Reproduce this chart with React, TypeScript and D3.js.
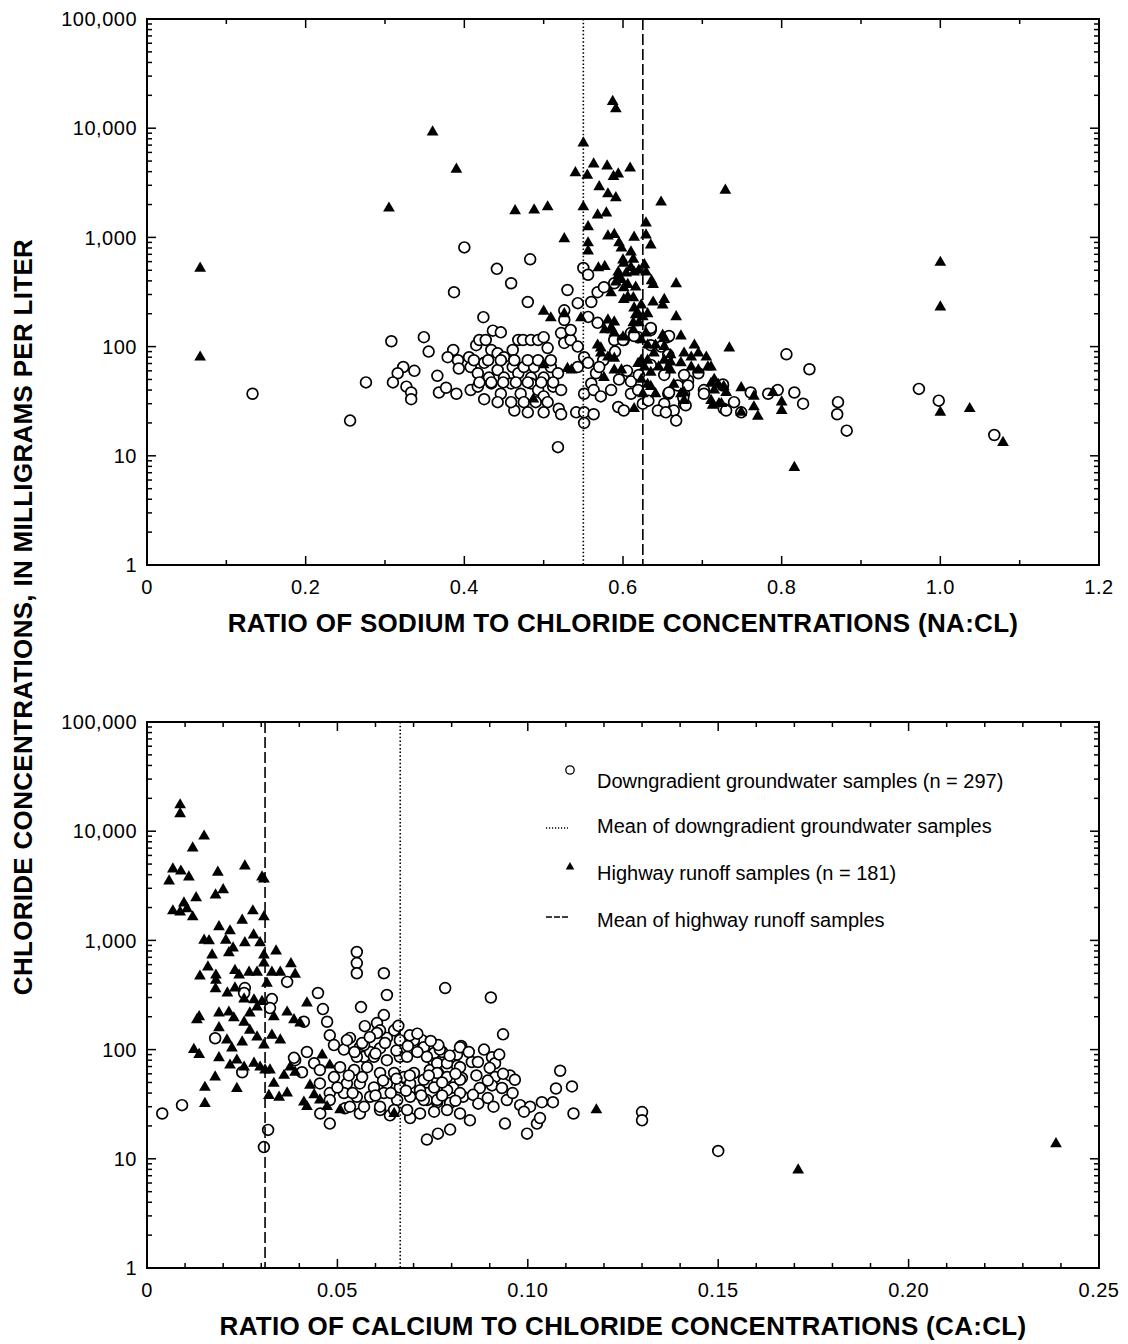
import React from 'react'
import * as d3 from 'd3'

// Top panel: ratio of sodium to chloride (Na:Cl) vs chloride, mg/L
const naGroundwater: [number, number][] = [
  [0.133, 37], [0.256, 21], [0.276, 47], [0.308, 112], [0.349, 122], [0.355, 90],
  [0.386, 93], [0.379, 80], [0.392, 75], [0.393, 63],
  [0.323, 65], [0.316, 57], [0.337, 60], [0.31, 47], [0.327, 43], [0.333, 38], [0.333, 33],
  [0.366, 54], [0.368, 38], [0.377, 42], [0.39, 37],
  [0.4, 810], [0.483, 630], [0.441, 515], [0.459, 380], [0.387, 315], [0.48, 256], [0.53, 330],
  [0.55, 525], [0.556, 455], [0.568, 315], [0.56, 256], [0.543, 250], [0.424, 186], [0.436, 140], [0.446, 135],
  [0.406, 80], [0.415, 103], [0.419, 115], [0.427, 115], [0.434, 93], [0.442, 87], [0.45, 80], [0.461, 93],
  [0.468, 115], [0.474, 115], [0.484, 115], [0.493, 115], [0.5, 122], [0.505, 97],
  [0.408, 65], [0.417, 57], [0.425, 71], [0.431, 52], [0.442, 61], [0.45, 52], [0.461, 65], [0.468, 57],
  [0.475, 65], [0.484, 52], [0.488, 65], [0.5, 52], [0.509, 65], [0.518, 57],
  [0.408, 40], [0.417, 43], [0.425, 33], [0.434, 46], [0.446, 37], [0.459, 46], [0.471, 37], [0.484, 46],
  [0.493, 40], [0.5, 35], [0.512, 43], [0.522, 40],
  [0.463, 26], [0.48, 25], [0.5, 25], [0.519, 27], [0.522, 24], [0.541, 25], [0.551, 25], [0.563, 24],
  [0.551, 20], [0.518, 12],
  [0.522, 133], [0.526, 108], [0.534, 115], [0.543, 100], [0.551, 80], [0.543, 65], [0.556, 71], [0.566, 57],
  [0.56, 46], [0.551, 37], [0.563, 40], [0.572, 35], [0.585, 40], [0.594, 28], [0.601, 26], [0.61, 37],
  [0.619, 40], [0.625, 30], [0.632, 32],
  [0.568, 165], [0.581, 150], [0.589, 115], [0.601, 115], [0.61, 133], [0.619, 122], [0.635, 142], [0.656, 122],
  [0.635, 103], [0.648, 100], [0.657, 84], [0.635, 68], [0.652, 55], [0.657, 37], [0.669, 44], [0.677, 37],
  [0.677, 30], [0.664, 26], [0.682, 49], [0.652, 30], [0.644, 26],
  [0.702, 40], [0.726, 44], [0.727, 27],
  [0.526, 215], [0.526, 175], [0.556, 187], [0.534, 142], [0.589, 380], [0.576, 350],
  [0.806, 85], [0.835, 62], [0.871, 31], [0.87, 24], [0.882, 17], [0.816, 38], [0.827, 30], [0.761, 38],
  [0.783, 37], [0.795, 40], [0.749, 25], [0.73, 26], [0.74, 31], [0.726, 45], [0.702, 37], [0.695, 57],
  [0.677, 55], [0.682, 44], [0.658, 38], [0.654, 25], [0.667, 21], [0.679, 29], [0.676, 34],
  [0.635, 148], [0.658, 125], [0.614, 125], [0.6, 115],
  [0.973, 41], [0.998, 32], [1.068, 15.5],
  [0.412, 75], [0.43, 75], [0.446, 75], [0.463, 75], [0.48, 75], [0.493, 75], [0.509, 75],
  [0.419, 47], [0.434, 47], [0.449, 47], [0.465, 47], [0.48, 47], [0.497, 47], [0.512, 47],
  [0.442, 31], [0.459, 31], [0.475, 31], [0.49, 31], [0.505, 31],
  [0.575, 75], [0.59, 90], [0.605, 60], [0.57, 65], [0.595, 50], [0.61, 48], [0.62, 55],
]

const naRunoff: [number, number][] = [
  [0.067, 520], [0.067, 80], [0.305, 1850], [0.36, 9200], [0.39, 4200], [0.464, 1750], [0.488, 1780],
  [0.505, 1900], [0.55, 7300], [0.587, 17500], [0.591, 15000], [0.563, 4700], [0.58, 4500], [0.609, 4300],
  [0.54, 3900], [0.555, 3700], [0.588, 3600], [0.594, 3800], [0.57, 2900], [0.581, 2500], [0.591, 2300],
  [0.729, 2700], [0.648, 2100], [0.55, 1900], [0.568, 1600], [0.579, 1670], [0.556, 1250], [0.526, 970],
  [0.581, 1030], [0.589, 1060], [0.614, 1000], [0.629, 1350], [0.629, 1050], [0.635, 850], [0.556, 890],
  [0.556, 750], [0.595, 890], [0.598, 800], [0.61, 735], [0.6, 620], [0.613, 630], [0.627, 560],
  [0.569, 525], [0.577, 540], [0.594, 480], [0.604, 470], [0.614, 480], [0.629, 480], [0.594, 450],
  [0.591, 390], [0.636, 400], [0.638, 370], [0.667, 375], [0.585, 310], [0.601, 345], [0.613, 280],
  [0.601, 270], [0.638, 255], [0.652, 270], [0.65, 240], [0.5, 210], [0.509, 183], [0.526, 200],
  [0.547, 183], [0.614, 225], [0.619, 200], [0.667, 187], [0.581, 175], [0.589, 168], [0.577, 142],
  [0.585, 148], [0.613, 165], [0.613, 142], [0.629, 133], [0.568, 103], [0.572, 97], [0.673, 125],
  [0.65, 127], [0.652, 100], [0.69, 103], [0.677, 87], [0.686, 80], [0.695, 87], [0.705, 80], [0.734, 97],
  [0.623, 75], [0.631, 75], [0.639, 87], [0.66, 84], [0.66, 72], [0.673, 71], [0.66, 61], [0.686, 65],
  [0.695, 61], [0.707, 65], [0.5, 68], [0.53, 63], [0.535, 61], [0.589, 61], [0.598, 61], [0.623, 50],
  [0.631, 45], [0.664, 45], [0.677, 38], [0.677, 32], [0.487, 33], [0.614, 27], [0.711, 46], [0.715, 40],
  [0.711, 32], [0.721, 30], [0.711, 65], [0.715, 50], [0.72, 45], [0.727, 43], [0.73, 38], [0.713, 29],
  [0.724, 30], [0.749, 42], [0.749, 25], [0.765, 35], [0.765, 28], [0.77, 23], [0.789, 38], [0.8, 31],
  [0.8, 26], [0.816, 7.8], [1.0, 590], [1.0, 230], [1.0, 25], [1.037, 27], [1.079, 13.2],
  [0.601, 580], [0.61, 530], [0.62, 500], [0.598, 410], [0.606, 370], [0.616, 350], [0.606, 285],
  [0.623, 240], [0.631, 200], [0.616, 195], [0.625, 187], [0.62, 165], [0.589, 133], [0.6, 122],
  [0.623, 115], [0.631, 103], [0.641, 103], [0.652, 120], [0.572, 87], [0.581, 80], [0.589, 78],
  [0.619, 70], [0.627, 65], [0.635, 58], [0.645, 65], [0.652, 75], [0.657, 65], [0.625, 37], [0.635, 43],
  [0.641, 37], [0.673, 37], [0.576, 52],
]

// Bottom panel: ratio of calcium to chloride (Ca:Cl) vs chloride, mg/L
const caGroundwater: [number, number][] = [
  [0.004, 26], [0.0092, 31], [0.0307, 12.8], [0.0318, 18.4], [0.15, 11.8], [0.13, 26.8], [0.13, 22.5], [0.112, 26],
  [0.0551, 783], [0.0551, 620], [0.0551, 500], [0.0622, 500], [0.063, 316], [0.0783, 366], [0.0449, 330],
  [0.0462, 235], [0.0368, 417], [0.0562, 245], [0.0572, 164], [0.0622, 207], [0.0257, 366], [0.0255, 330],
  [0.0328, 290], [0.0323, 240], [0.0412, 180], [0.0473, 180], [0.048, 135], [0.0179, 127], [0.025, 62],
  [0.042, 95], [0.0389, 80], [0.0407, 62], [0.0439, 75], [0.0386, 84], [0.0454, 65], [0.048, 40], [0.0454, 49],
  [0.0491, 110], [0.0517, 100], [0.0533, 128], [0.0559, 105], [0.057, 86], [0.0586, 95], [0.0612, 103],
  [0.063, 128], [0.0651, 150], [0.0604, 175], [0.0612, 150],
  [0.0903, 300], [0.0935, 138], [0.1085, 64], [0.1116, 46], [0.1074, 44], [0.0825, 108], [0.0814, 90], [0.0814, 71],
  [0.0775, 95], [0.0751, 80], [0.0735, 89], [0.0725, 110], [0.0722, 122],
  [0.0853, 77], [0.0869, 77], [0.0906, 85], [0.0914, 75], [0.0953, 58], [0.0966, 53], [0.09, 68], [0.0914, 56],
  [0.0827, 55], [0.0874, 44.5], [0.0906, 47], [0.0932, 44.5], [0.0804, 45], [0.0764, 45], [0.0735, 50],
  [0.0764, 61], [0.0743, 65],
  [0.083, 37], [0.0856, 38.5], [0.0895, 36], [0.0945, 34.5], [0.0762, 33], [0.0735, 34.5],
  [0.1037, 33], [0.1066, 33], [0.098, 31], [0.1006, 30],
  [0.0735, 15], [0.0764, 17], [0.094, 21], [0.0998, 17], [0.0796, 18.5], [0.0848, 22.5], [0.0691, 23.6],
  [0.0638, 25], [0.0612, 28], [0.0559, 26], [0.052, 29], [0.048, 34.5], [0.1024, 21], [0.1032, 23.6],
  [0.048, 21], [0.0455, 26],
  [0.0525, 122], [0.057, 110], [0.0604, 142], [0.0649, 150], [0.0664, 122], [0.0701, 122], [0.0727, 105],
  [0.0754, 93], [0.0769, 100], [0.0822, 105],
  [0.0551, 86], [0.0596, 86], [0.063, 80], [0.0664, 86], [0.0683, 86], [0.0735, 86], [0.0762, 75],
  [0.0788, 75], [0.0822, 69],
  [0.0507, 69], [0.0544, 65], [0.0578, 69], [0.0612, 61], [0.0649, 61], [0.0675, 56], [0.0701, 61],
  [0.0727, 53], [0.0762, 61], [0.0788, 56], [0.0822, 53],
  [0.0491, 56], [0.0525, 49], [0.0559, 49], [0.0596, 45], [0.063, 49], [0.0664, 45], [0.0691, 49],
  [0.0717, 42.5], [0.0754, 45], [0.0788, 42.5], [0.0822, 40],
  [0.0517, 40], [0.0551, 37], [0.0586, 37], [0.0622, 40], [0.0657, 34.5], [0.0691, 37], [0.0727, 34.5],
  [0.0762, 34.5], [0.0796, 32.5],
  [0.0533, 30], [0.057, 30], [0.0612, 30], [0.0649, 28], [0.0683, 28], [0.0717, 26], [0.0754, 27],
  [0.0788, 28], [0.0822, 26],
  [0.0545, 95], [0.06, 92], [0.0655, 98], [0.071, 95], [0.0765, 110], [0.0795, 88], [0.0845, 95],
  [0.0885, 100], [0.0925, 90],
  [0.053, 58], [0.0565, 56], [0.062, 52], [0.0655, 54], [0.069, 58], [0.074, 58], [0.0775, 50], [0.081, 60],
  [0.0865, 58], [0.0895, 52], [0.0935, 60],
  [0.05, 45], [0.054, 40], [0.06, 38], [0.064, 40], [0.068, 42], [0.072, 38], [0.0775, 38], [0.081, 34],
  [0.087, 32], [0.091, 30], [0.096, 40], [0.099, 27],
  [0.0565, 115], [0.0625, 115], [0.0685, 108], [0.0745, 120], [0.0585, 130], [0.069, 135], [0.066, 165], [0.071, 140],
]

const caRunoff: [number, number][] = [
  [0.0087, 17400], [0.0087, 14400], [0.015, 9000], [0.012, 7000], [0.0068, 4500], [0.0089, 4300],
  [0.011, 3800], [0.0058, 3500], [0.0186, 4200], [0.0257, 4800], [0.0302, 3800], [0.0307, 3650],
  [0.02, 2900], [0.018, 2600], [0.0129, 2450], [0.0097, 2200], [0.0068, 1860], [0.0087, 1820],
  [0.0105, 1950], [0.012, 1640], [0.0307, 1640], [0.0278, 1860], [0.025, 1530], [0.0189, 1330],
  [0.0218, 1220], [0.015, 1000], [0.0163, 990], [0.0207, 1000], [0.0226, 850], [0.0215, 770],
  [0.0257, 950], [0.028, 1120], [0.0297, 950], [0.0307, 735], [0.0307, 620], [0.0171, 735], [0.0339, 800],
  [0.0378, 610], [0.0389, 490], [0.016, 570], [0.0139, 470], [0.0181, 480], [0.0181, 430], [0.0231, 530],
  [0.0242, 480], [0.0268, 510], [0.0289, 510], [0.0328, 510], [0.035, 510], [0.0315, 405],
  [0.018, 360], [0.0211, 330], [0.0231, 366], [0.0255, 290], [0.0281, 285], [0.042, 267],
  [0.0137, 200], [0.0131, 187], [0.0189, 216], [0.0215, 220], [0.0228, 195], [0.0255, 178], [0.027, 216],
  [0.0289, 245], [0.0302, 275], [0.0333, 200], [0.0368, 220], [0.0386, 187], [0.0402, 175],
  [0.0189, 158], [0.021, 122], [0.0223, 103], [0.025, 117], [0.027, 150], [0.0289, 130], [0.0307, 110],
  [0.0328, 135], [0.035, 122],
  [0.0123, 100], [0.0137, 90], [0.0189, 84], [0.0218, 72], [0.0236, 80], [0.0255, 69], [0.0281, 75],
  [0.0297, 69], [0.031, 65], [0.0179, 56],
  [0.0323, 65], [0.0333, 49], [0.036, 58], [0.0376, 69], [0.0389, 62],
  [0.0152, 45], [0.0236, 44], [0.0152, 32], [0.032, 38], [0.0347, 36.6], [0.0368, 40],
  [0.0428, 47], [0.0439, 38.5], [0.0454, 34.5], [0.042, 30], [0.0473, 30], [0.0412, 33], [0.046, 89],
  [0.048, 72], [0.0507, 28], [0.0649, 26],
  [0.118, 28], [0.171, 7.9], [0.2387, 13.7],
]

const naMeanGroundwater = 0.55
const naMeanRunoff = 0.625
const caMeanGroundwater = 0.0665
const caMeanRunoff = 0.031

const yTickValues = [1, 10, 100, 1000, 10000, 100000]

const legendLabels = [
  'Downgradient groundwater samples (n = 297)',
  'Mean of downgradient groundwater samples',
  'Highway runoff samples (n = 181)',
  'Mean of highway runoff samples',
]

const FONT = '"Liberation Sans", Arial, Helvetica, sans-serif'
const LEFT = 147
const RIGHT = 1099
const triangle = d3.symbol().type(d3.symbolTriangle).size(60)()
const smallTriangle = d3.symbol().type(d3.symbolTriangle).size(32)()

function Panel({ top, bottom, xMax, majorStep, minorCount, digits, title, circles, triangles, dotted, dashed, legend }) {
  const x = d3.scaleLinear().domain([0, xMax]).range([LEFT, RIGHT])
  const y = d3.scaleLog().domain([1, 100000]).range([bottom, top])
  const xTicks = x.ticks(minorCount)
  const isMajor = (v: number) => Math.abs(v / majorStep - Math.round(v / majorStep)) < 1e-6
  const yTicks = y.ticks()
  const isDecade = (v: number) => Math.abs(Math.log10(v) - Math.round(Math.log10(v))) < 1e-6
  const fmt = (v: number) => (v === 0 ? '0' : d3.format('.' + digits + 'f')(v))

  return (
    <g>
      {xTicks.map((v, i) => {
        const len = isMajor(v) ? 9 : 5
        return (
          <g key={'xt' + i} stroke="#000" strokeWidth={1.5}>
            <line x1={x(v)} x2={x(v)} y1={bottom} y2={bottom - len} />
            <line x1={x(v)} x2={x(v)} y1={top} y2={top + len} />
          </g>
        )
      })}
      {yTicks.map((v, i) => {
        const len = isDecade(v) ? 9 : 5
        return (
          <g key={'yt' + i} stroke="#000" strokeWidth={1.5}>
            <line x1={LEFT} x2={LEFT + len} y1={y(v)} y2={y(v)} />
            <line x1={RIGHT} x2={RIGHT - len} y1={y(v)} y2={y(v)} />
          </g>
        )
      })}
      {xTicks.filter(isMajor).map((v, i) => (
        <text key={'xl' + i} x={x(v)} y={bottom + 29} textAnchor="middle" fontSize={20} letterSpacing={0.5}>
          {fmt(v)}
        </text>
      ))}
      {yTickValues.map((v, i) => (
        <text key={'yl' + i} x={137} y={y(v)} dy="0.36em" textAnchor="end" fontSize={20} letterSpacing={0.5}>
          {d3.format(',')(v)}
        </text>
      ))}

      {circles.map((d, i) => (
        <circle key={'c' + i} cx={x(d[0])} cy={y(d[1])} r={5.4} fill="#fff" stroke="#000" strokeWidth={1.7} />
      ))}
      <line x1={x(dotted)} x2={x(dotted)} y1={top} y2={bottom} stroke="#000" strokeWidth={1.6} strokeDasharray="1.5 2.2" />
      <line x1={x(dashed)} x2={x(dashed)} y1={top} y2={bottom} stroke="#000" strokeWidth={1.6} strokeDasharray="11 4" />
      {triangles.map((d, i) => (
        <path key={'t' + i} d={triangle} transform={`translate(${x(d[0])},${y(d[1])})`} fill="#000" />
      ))}

      <rect x={LEFT} y={top} width={RIGHT - LEFT} height={bottom - top} fill="none" stroke="#000" strokeWidth={2} />

      <text x={(LEFT + RIGHT) / 2} y={bottom + 67} textAnchor="middle" fontSize={26} fontWeight="bold" letterSpacing={0.3}>
        {title}
      </text>

      {legend && (
        <g>
          <circle cx={570} cy={770} r={4.2} fill="#fff" stroke="#000" strokeWidth={1.3} />
          <line x1={546} x2={568} y1={828} y2={828} stroke="#000" strokeWidth={1.4} strokeDasharray="1.2 1.8" />
          <path d={smallTriangle} transform="translate(570,867)" fill="#000" />
          <line x1={546} x2={568} y1={917} y2={917} stroke="#000" strokeWidth={1.4} strokeDasharray="6 2" />
          {legendLabels.map((s, i) => (
            <text key={'lg' + i} x={597} y={[788, 833, 880, 927][i]} fontSize={20}>
              {s}
            </text>
          ))}
        </g>
      )}
    </g>
  )
}

export default function App() {
  return (
    <svg
      width={1128}
      height={1344}
      style={{ position: 'absolute', left: 0, top: 0, background: '#fff' }}
      fontFamily={FONT}
    >
      <rect width={1128} height={1344} fill="#fff" />
      <Panel
        top={19}
        bottom={565}
        xMax={1.2}
        majorStep={0.2}
        minorCount={12}
        digits={1}
        title="RATIO OF SODIUM TO CHLORIDE CONCENTRATIONS (NA:CL)"
        circles={naGroundwater}
        triangles={naRunoff}
        dotted={naMeanGroundwater}
        dashed={naMeanRunoff}
        legend={false}
      />
      <Panel
        top={722}
        bottom={1268}
        xMax={0.25}
        majorStep={0.05}
        minorCount={25}
        digits={2}
        title="RATIO OF CALCIUM TO CHLORIDE CONCENTRATIONS (CA:CL)"
        circles={caGroundwater}
        triangles={caRunoff}
        dotted={caMeanGroundwater}
        dashed={caMeanRunoff}
        legend={true}
      />
      <text
        transform="translate(23,617) rotate(-90)"
        textAnchor="middle"
        dominantBaseline="central"
        fontSize={26}
        fontWeight="bold"
        letterSpacing={0.3}
      >
        CHLORIDE CONCENTRATIONS, IN MILLIGRAMS PER LITER
      </text>
    </svg>
  )
}
